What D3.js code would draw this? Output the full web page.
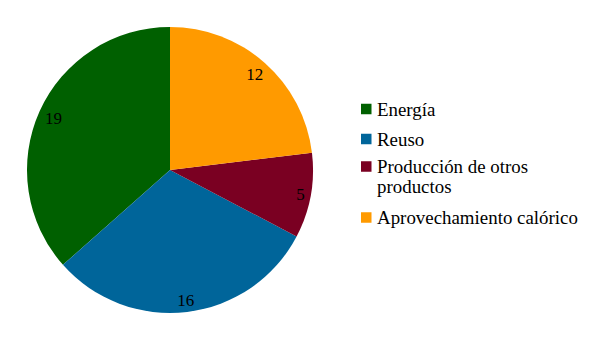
<!DOCTYPE html>
<html>
<head>
<meta charset="utf-8">
<script src="https://cdn.jsdelivr.net/npm/d3@7"></script>
<style>
  body { margin: 0; background: #fff; }
  svg { display: block; font-family: "Liberation Serif", serif; }
</style>
</head>
<body>
<svg id="chart" width="608" height="342"></svg>
<script>
// data
const categories = ["Energía", "Reuso", "Producción de otros productos", "Aprovechamiento calórico"];
const values = [19, 16, 5, 12];
const legendLines = [["Energía"], ["Reuso"], ["Producción de otros", "productos"], ["Aprovechamiento calórico"]];
const colors = ["#006000", "#00659a", "#7a0022", "#ff9a00"];

const svg = d3.select("#chart");
const cx = 170, cy = 170, radius = 143;

const color = d3.scaleOrdinal().domain(categories).range(colors);

// slices go counter-clockwise from the top, first category first
const pie = d3.pie()
    .sort(null)
    .value(d => d.value)
    .startAngle(0)
    .endAngle(-2 * Math.PI);

const data = categories.map((c, i) => ({ name: c, value: values[i] }));
const arcs = pie(data);

const arc = d3.arc().innerRadius(0).outerRadius(radius);

const g = svg.append("g").attr("transform", `translate(${cx},${cy})`);

g.selectAll("path")
    .data(arcs)
    .enter().append("path")
    .attr("d", arc)
    .attr("fill", d => color(d.data.name));

// value labels sit inside, pushed toward the rim so the text box stays in the slice
const labels = g.selectAll("text")
    .data(arcs)
    .enter().append("text")
    .attr("text-anchor", "middle")
    .attr("dy", "0.35em")
    .style("font-size", "17px")
    .style("fill", "#000")
    .text(d => d.data.value);

labels.each(function(d) {
    const box = this.getBBox();
    const a = (d.startAngle + d.endAngle) / 2;
    const s = Math.sin(a), c = Math.cos(a);
    const r = radius - 5 - (Math.abs(s) * box.width / 2 + Math.abs(c) * 12 / 2);
    d3.select(this).attr("transform", `translate(${s * r},${-c * r})`);
});

// legend
const rowY = [109, 139, 166.5, 217.5];
const legend = svg.append("g").attr("class", "legend");

const items = legend.selectAll(".legend-item")
    .data(categories)
    .enter().append("g")
    .attr("class", "legend-item")
    .attr("transform", (d, i) => `translate(361, ${rowY[i]})`);

items.append("rect")
    .attr("x", 0)
    .attr("y", -5.25)
    .attr("width", 10.5)
    .attr("height", 10.5)
    .attr("fill", color);

items.append("text")
    .style("font-size", "18.9px")
    .style("fill", "#000")
    .each(function(d, i) {
        const t = d3.select(this);
        legendLines[i].forEach((line, j) => {
            t.append("tspan")
                .attr("x", 16)
                .attr("y", j * 19.5)
                .attr("dy", "0.35em")
                .text(line);
        });
    });
</script>
</body>
</html>
